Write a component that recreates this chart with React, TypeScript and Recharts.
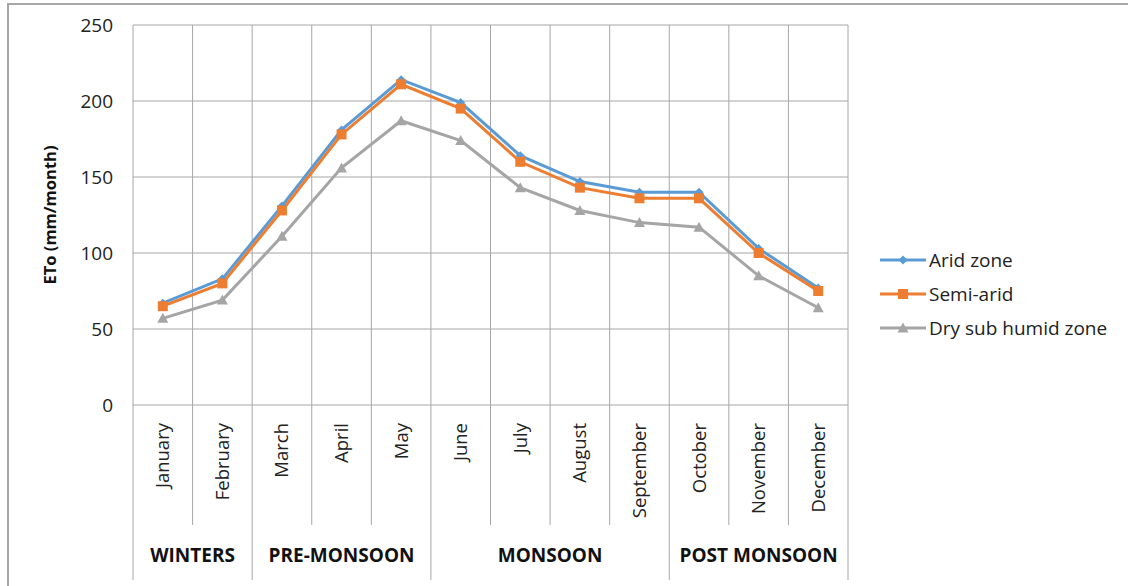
import React from "react";
import { LineChart, Line, XAxis, YAxis, CartesianGrid } from "recharts";

const months = ["January", "February", "March", "April", "May", "June", "July", "August", "September", "October", "November", "December"];
const seasons = ["WINTERS", "WINTERS", "PRE-MONSOON", "PRE-MONSOON", "PRE-MONSOON", "MONSOON", "MONSOON", "MONSOON", "MONSOON", "POST MONSOON", "POST MONSOON", "POST MONSOON"];
const arid = [67, 83, 131, 181, 214, 199, 164, 147, 140, 140, 103, 77];
const semiArid = [65, 80, 128, 178, 211, 195, 160, 143, 136, 136, 100, 75];
const dryHumid = [57, 69, 111, 156, 187, 174, 143, 128, 120, 117, 85, 64];
const yTicks = [0, 50, 100, 150, 200, 250];

const data = months.map((m, i) => ({ month: m, season: seasons[i], arid: arid[i], semi: semiArid[i], dry: dryHumid[i] }));

const FONT = "'Open Sans', sans-serif";
const GRID = "#a6a6a6";
const TEXT = "#222222";
const BLUE = "#5b9bd5";
const ORANGE = "#ed7d31";
const GREY = "#a5a5a5";

const Marker = ({ shape, cx, cy, color }: any) => {
    if (shape === "diamond") return <polygon points={`${cx},${cy - 4.5} ${cx + 4.5},${cy} ${cx},${cy + 4.5} ${cx - 4.5},${cy}`} fill={color} />;
    if (shape === "square") return <rect x={cx - 5} y={cy - 5} width={10} height={10} fill={color} />;
    return <polygon points={`${cx},${cy - 5.5} ${cx + 5.5},${cy + 4.5} ${cx - 5.5},${cy + 4.5}`} fill={color} />;
};

const makeDot = (shape: string, color: string) => (props: any) =>
    <Marker key={`${shape}-${props.index}`} shape={shape} cx={props.cx} cy={props.cy} color={color} />;

const MonthTick = (props: any) => {
    const { x, y, payload, index } = props;
    const half = payload.offset;
    const left = x - half;
    const newSeason = index === 0 || seasons[index - 1] !== seasons[index];
    let span = 0;
    if (newSeason) {
        while (index + span < seasons.length && seasons[index + span] === seasons[index]) span++;
    }
    return (
        <g>
            <line x1={left} y1={y} x2={left} y2={y + (newSeason ? 175 : 120)} stroke={GRID} />
            {index === months.length - 1 && <line x1={x + half} y1={y} x2={x + half} y2={y + 175} stroke={GRID} />}
            <text x={x} y={y + 18} transform={`rotate(-90, ${x}, ${y + 18})`} textAnchor="end" dy="0.35em"
                fontFamily={FONT} fontSize={18.5} fill={TEXT}>{payload.value}</text>
            {newSeason && (
                <text x={left + span * half} y={y + 157} textAnchor="middle" fontFamily={FONT} fontSize={19}
                    fontWeight="bold" fill="#111111">{seasons[index]}</text>
            )}
        </g>
    );
};

const legendItems = [
    { name: "Arid zone", color: BLUE, shape: "diamond" },
    { name: "Semi-arid", color: ORANGE, shape: "square" },
    { name: "Dry sub humid zone", color: GREY, shape: "triangle" },
];

const ChartLegend = () => (
    <div style={{ position: "absolute", left: 871, top: 238, fontFamily: FONT, fontSize: 19, color: TEXT }}>
        {legendItems.map(it => (
            <div key={it.name} style={{ display: "flex", alignItems: "center", height: 34 }}>
                <svg width={48} height={14}>
                    <line x1={0} y1={7} x2={46} y2={7} stroke={it.color} strokeWidth={3} />
                    <Marker shape={it.shape} cx={23} cy={7} color={it.color} />
                </svg>
                <span style={{ marginLeft: 1 }}>{it.name}</span>
            </div>
        ))}
    </div>
);

const App = () => (
    <div style={{ position: "absolute", left: 7, top: 3, width: 1121, height: 583, borderTop: `2px solid ${GRID}`, borderLeft: `2px solid ${GRID}` }}>
        <LineChart width={1119} height={581} data={data} margin={{ top: 20, right: 280, left: 0, bottom: 6 }}>
            <CartesianGrid stroke={GRID} strokeWidth={1}
                verticalCoordinatesGenerator={({ offset }: any) => months.map((_, i) => offset.left + (i * offset.width) / months.length).concat(offset.left + offset.width)} />
            <XAxis dataKey="month" scale="band" height={175} tick={<MonthTick />} tickLine={false} axisLine={false} tickSize={0} tickMargin={0} interval={0} />
            <YAxis domain={[0, 250]} ticks={yTicks} width={124} tickLine={false} axisLine={false} tickSize={0} tickMargin={20}
                tick={{ fontFamily: FONT, fontSize: 19, fill: TEXT }}
                label={({ viewBox }: any) => (
                    <text x={viewBox.x + 41} y={viewBox.y + viewBox.height / 2} transform={`rotate(-90, ${viewBox.x + 41}, ${viewBox.y + viewBox.height / 2})`}
                        textAnchor="middle" dy="0.35em" fontFamily={FONT} fontSize={16.5} fontWeight="bold" fill="#111111">ETo (mm/month)</text>
                )} />
            <Line dataKey="arid" name="Arid zone" stroke={BLUE} strokeWidth={3} dot={makeDot("diamond", BLUE)} activeDot={false} isAnimationActive={false} />
            <Line dataKey="semi" name="Semi-arid" stroke={ORANGE} strokeWidth={3} dot={makeDot("square", ORANGE)} activeDot={false} isAnimationActive={false} />
            <Line dataKey="dry" name="Dry sub humid zone" stroke={GREY} strokeWidth={3} dot={makeDot("triangle", GREY)} activeDot={false} isAnimationActive={false} />
        </LineChart>
        <ChartLegend />
    </div>
);

export default App;
